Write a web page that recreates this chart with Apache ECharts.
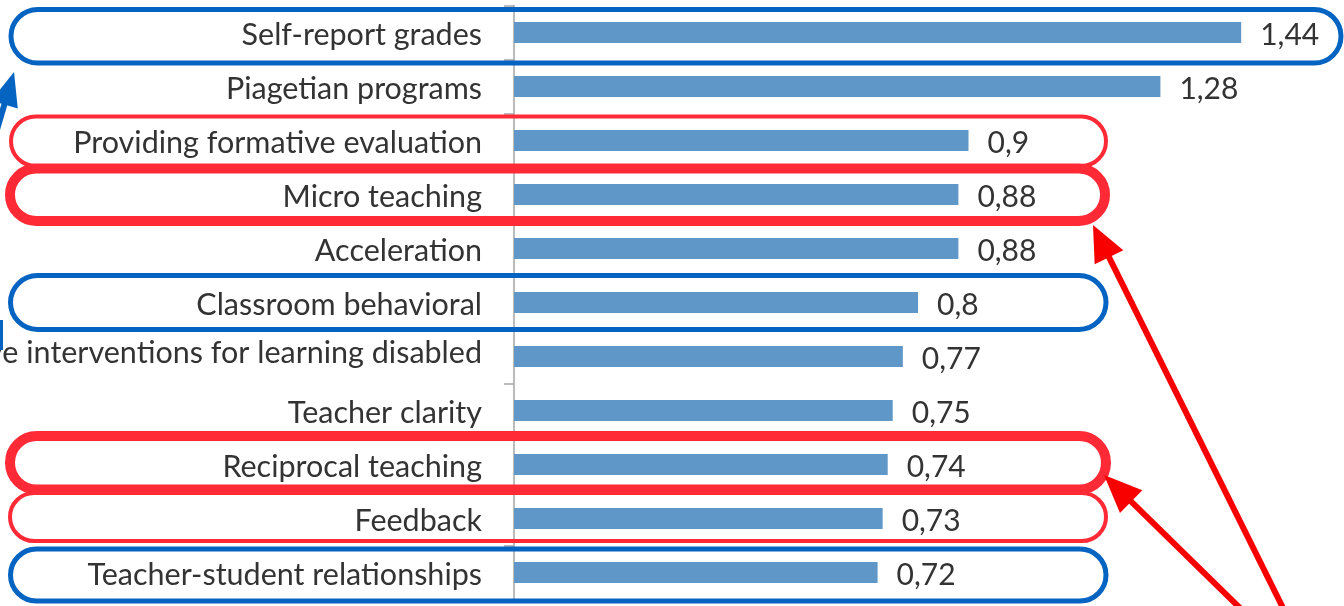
<!DOCTYPE html>
<html>
<head>
<meta charset="utf-8">
<script src="https://cdn.jsdelivr.net/npm/echarts@6/dist/echarts.min.js"></script>
<style>
html,body{margin:0;padding:0;background:#fff;}
#c{width:1344px;height:606px;}
</style>
</head>
<body>
<div id="c"></div>
<script>
const categories = [
  'Self-report grades',
  'Piagetian programs',
  'Providing formative evaluation',
  'Micro teaching',
  'Acceleration',
  'Classroom behavioral',
  'Comprehensive interventions for learning disabled',
  'Teacher clarity',
  'Reciprocal teaching',
  'Feedback',
  'Teacher-student relationships'
];
const effectSizes = [1.44, 1.28, 0.9, 0.88, 0.88, 0.8, 0.77, 0.75, 0.74, 0.73, 0.72];

const BLUE = '#0563c1', PINK = '#ff2a36', RED = '#f80000';
function box(x1, y1, x2, y2, color, lw) {
  const h = y2 - y1;
  return { type: 'rect', z: 100, silent: true,
    shape: { x: x1, y: y1, width: x2 - x1, height: h, r: h / 2 },
    style: { fill: null, stroke: color, lineWidth: lw } };
}
function arrow(tip, tail, color, lw, hl, hw) {
  const dx = tail[0] - tip[0], dy = tail[1] - tip[1];
  const L = Math.hypot(dx, dy), ux = dx / L, uy = dy / L;
  const bx = tip[0] + ux * hl, by = tip[1] + uy * hl;
  const px = -uy, py = ux;
  return [
    { type: 'line', z: 100, silent: true,
      shape: { x1: bx - ux * 2, y1: by - uy * 2, x2: tail[0], y2: tail[1] },
      style: { stroke: color, lineWidth: lw } },
    { type: 'polygon', z: 100, silent: true,
      shape: { points: [tip, [bx + px * hw, by + py * hw], [bx - px * hw, by - py * hw]] },
      style: { fill: color } }
  ];
}

const chart = echarts.init(document.getElementById('c'));
chart.setOption({
  animation: false,
  grid: { left: 514, right: 22, top: 5.5, bottom: 6.5, containLabel: false, outerBoundsMode: 'none' },
  xAxis: { type: 'value', min: 0, max: 1.6, show: false },
  yAxis: {
    type: 'category', data: categories, inverse: true,
    axisLine: { lineStyle: { color: '#a6a6a6', width: 1.5 } },
    axisTick: { show: true, length: 10, lineStyle: { color: '#a6a6a6', width: 1.5 } },
    axisLabel: {
      margin: 32, color: '#333333',
      formatter: function (v) { return v.indexOf('Comprehensive') === 0 ? '{c|' + v + '}' : '{n|' + v + '}'; },
      rich: {
        n: { fontFamily: 'Lato', fontSize: 30.5, color: '#333333', padding: [6, 0, 0, 0] },
        c: { fontFamily: 'Lato', fontSize: 30.5, color: '#333333', padding: [0, 0, 6, 0] }
      }
    }
  },
  series: [{
    type: 'bar', data: effectSizes, barWidth: 21,
    itemStyle: { color: '#6097c9' },
    label: {
      show: true, position: 'right', distance: 19, offset: [0, 3],
      fontFamily: 'Lato', fontSize: 30, color: '#333333',
      formatter: function (p) { return String(p.value).replace('.', ','); }
    }
  }],
  graphic: [
    box(11, 9.5, 1341, 63, BLUE, 5),
    box(11, 116.5, 1106, 166, PINK, 4),
    box(10, 168.5, 1105, 221, PINK, 10),
    box(10.5, 275.5, 1106, 329.5, BLUE, 5),
    box(10, 436, 1106, 489.5, PINK, 10),
    box(10, 493, 1106, 541, PINK, 4),
    box(10.5, 549, 1106, 601, BLUE, 5),
    { type: 'rect', z: 100, silent: true, shape: { x: 0, y: 320, width: 3, height: 30 }, style: { fill: BLUE } }
  ].concat(
    arrow([1093, 225], [1284, 610], RED, 6, 36, 16),
    arrow([1104, 475], [1242, 610], RED, 6, 38, 16),
    arrow([14, 72], [-12, 160], BLUE, 6, 34, 14)
  )
});
</script>
</body>
</html>
